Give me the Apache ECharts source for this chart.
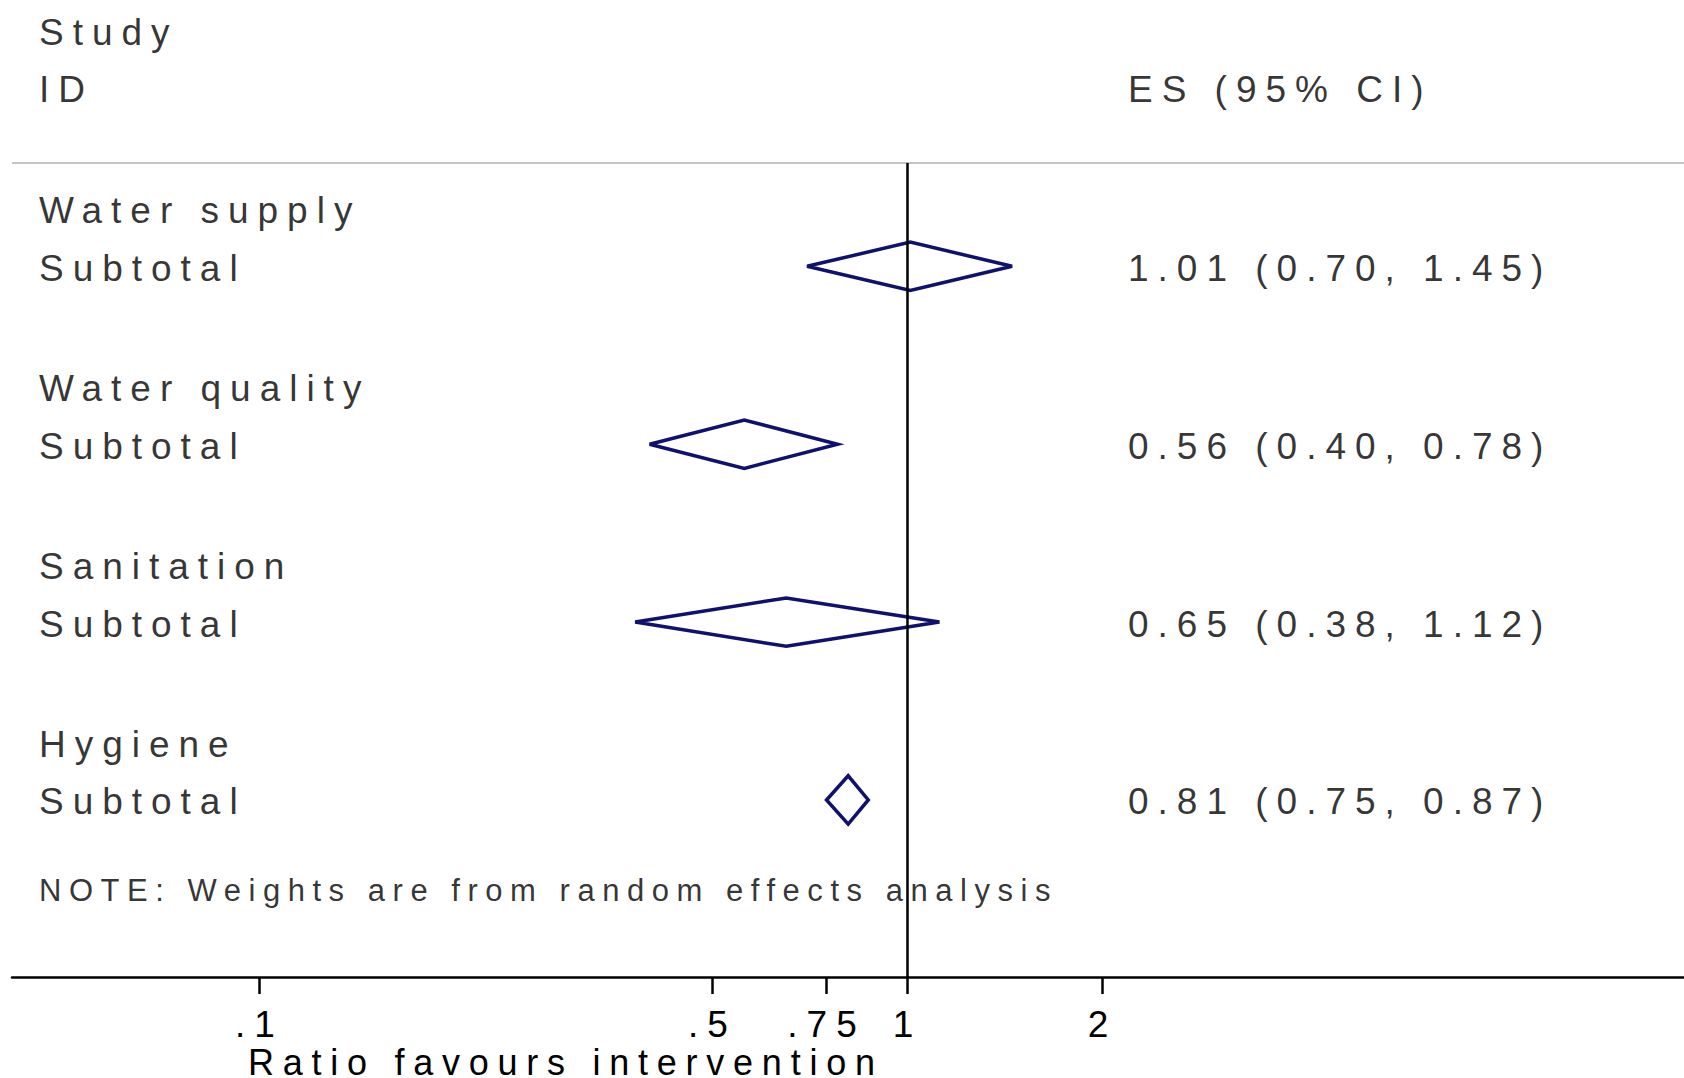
<!DOCTYPE html>
<html>
<head>
<meta charset="utf-8">
<script src="https://cdn.jsdelivr.net/npm/echarts@6/dist/echarts.min.js"></script>
<style>
  html, body { margin: 0; padding: 0; background: #ffffff; }
  #chart { width: 1684px; height: 1078px; }
  /* Stata-style tracked lettering */
  #chart text { letter-spacing: 0.243em; }
</style>
</head>
<body>
<div id="chart"></div>
<script>
// ---- data ----
const groups = ['Water supply', 'Water quality', 'Sanitation', 'Hygiene'];
const subtotalLabel = 'Subtotal';
const es = [1.01, 0.56, 0.65, 0.81];
const ciLow = [0.70, 0.40, 0.38, 0.75];
const ciHigh = [1.45, 0.78, 1.12, 0.87];
const tickValues = [0.1, 0.5, 0.75, 1, 2];
const tickLabels = ['.1', '.5', '.75', '1', '2'];
const nullValue = 1;
const headerStudy = 'Study';
const headerId = 'ID';
const headerEs = 'ES (95% CI)';
const noteText = 'NOTE: Weights are from random effects analysis';
const xTitle = 'Ratio favours intervention';

// ---- layout (x in log10 units, y in row units) ----
const LOG = Math.log10;
const X_MIN = -1.3819, X_MAX = 1.1983;
const Y_MIN = -2.4907, Y_MAX = 13.985;
const COL_LEFT = -1.3403;
const COL_RIGHT = 0.3403;
const ROW_STUDY = -1.98, ROW_ID = -1.01, ROW_RULE = 0.258, ROW_NOTE = 12.5;
const HEADER_NUDGE = 0.03;
const DIAMOND_HALF = 0.408;
const FONT = '"Liberation Sans", Arial, Helvetica, sans-serif';
const NAVY = '#10106e';
const headerRow = i => 3 * i + 1 + HEADER_NUDGE;
const subtotalRow = i => 3 * i + 2;
const fmt = v => v.toFixed(2);

// text cells placed on the plot's own coordinates
function cell(x, row, text, size) {
  return {
    value: [x, row],
    label: { formatter: text, fontSize: size || 37 }
  };
}
const textCells = [
  cell(COL_LEFT, ROW_STUDY, headerStudy),
  cell(COL_LEFT, ROW_ID, headerId),
  cell(COL_RIGHT, ROW_ID, headerEs),
  cell(COL_LEFT, ROW_NOTE, noteText, 31)
];
groups.forEach((g, i) => {
  textCells.push(cell(COL_LEFT, headerRow(i), g));
  textCells.push(cell(COL_LEFT, subtotalRow(i), subtotalLabel));
  textCells.push(cell(COL_RIGHT, subtotalRow(i),
    fmt(es[i]) + ' (' + fmt(ciLow[i]) + ', ' + fmt(ciHigh[i]) + ')'));
});

const tickLogs = tickValues.map(LOG);
function tickLabelFor(v) {
  let k = 0;
  tickLogs.forEach((t, i) => { if (Math.abs(t - v) < Math.abs(tickLogs[k] - v)) k = i; });
  return tickLabels[k];
}

const chart = echarts.init(document.getElementById('chart'), null, { renderer: 'svg' });
chart.setOption({
  backgroundColor: '#ffffff',
  animation: false,
  textStyle: { fontFamily: FONT, color: '#000' },
  grid: { left: 12, right: 0, top: 0, bottom: 101, containLabel: false, outerBoundsMode: 'none' },
  xAxis: {
    type: 'value',
    min: X_MIN,
    max: X_MAX,
    position: 'bottom',
    axisLine: { onZero: false, lineStyle: { color: '#000', width: 2.5 } },
    axisTick: { show: true, inside: false, length: 17, customValues: tickLogs,
      lineStyle: { color: '#000', width: 2.5 } },
    axisLabel: { customValues: tickLogs, formatter: tickLabelFor, margin: 47,
      verticalAlign: 'middle', fontSize: 37, color: '#000', fontFamily: FONT },
    splitLine: { show: false }
  },
  yAxis: {
    type: 'value',
    inverse: true,
    min: Y_MIN,
    max: Y_MAX,
    show: false,
    splitLine: { show: false }
  },
  graphic: [{
    type: 'text',
    x: 248,
    y: 1062,
    style: { text: xTitle, fill: '#000', font: '36px ' + FONT, align: 'left', verticalAlign: 'middle' }
  }],
  series: [
    {
      // rule under the column headers
      type: 'line',
      silent: true,
      symbol: 'none',
      data: [[X_MIN, ROW_RULE], [X_MAX, ROW_RULE]],
      lineStyle: { color: '#c4c4c4', width: 2 },
      z: 1
    },
    {
      // pooled estimates
      type: 'custom',
      silent: true,
      data: es.map((v, i) => [LOG(ciLow[i]), LOG(v), LOG(ciHigh[i]), subtotalRow(i)]),
      encode: { x: [0, 1, 2], y: 3 },
      renderItem: function (params, api) {
        const lo = api.value(0), m = api.value(1), hi = api.value(2), r = api.value(3);
        const pts = [
          api.coord([lo, r]),
          api.coord([m, r - DIAMOND_HALF]),
          api.coord([hi, r]),
          api.coord([m, r + DIAMOND_HALF])
        ];
        return {
          type: 'polygon',
          shape: { points: pts },
          style: { fill: 'none', stroke: NAVY, lineWidth: 3.5, lineJoin: 'miter' }
        };
      },
      z: 2
    },
    {
      // line of no effect
      type: 'line',
      silent: true,
      symbol: 'none',
      data: [[LOG(nullValue), ROW_RULE], [LOG(nullValue), Y_MAX]],
      lineStyle: { color: '#000', width: 2.5 },
      z: 3
    },
    {
      // study labels and estimates
      type: 'scatter',
      silent: true,
      symbolSize: 0,
      data: textCells,
      label: {
        show: true,
        position: 'right',
        distance: 0,
        offset: [0, 2],
        color: '#000',
        fontFamily: FONT,
        align: 'left',
        verticalAlign: 'middle'
      },
      z: 4
    }
  ]
});
</script>
</body>
</html>
